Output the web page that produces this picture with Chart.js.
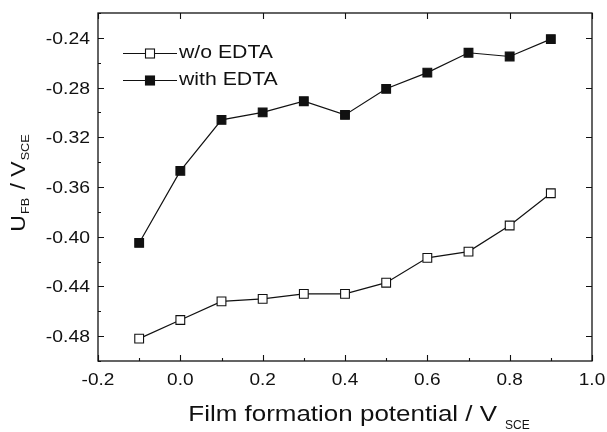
<!DOCTYPE html>
<html>
<head>
<meta charset="utf-8">
<script src="https://cdn.jsdelivr.net/npm/chart.js@4/dist/chart.umd.min.js"></script>
<style>
  html, body { margin: 0; padding: 0; background: #fff; }
  #wrap { width: 607px; height: 432px; }
</style>
</head>
<body>
<div id="wrap"><canvas id="fbChart"></canvas></div>
<script>
// data
const potentials = [-0.1, 0.0, 0.1, 0.2, 0.3, 0.4, 0.5, 0.6, 0.7, 0.8, 0.9];
const withoutEdta = [-0.482, -0.467, -0.452, -0.450, -0.446, -0.446, -0.437, -0.417, -0.412, -0.391, -0.365];
const withEdta = [-0.405, -0.347, -0.306, -0.300, -0.291, -0.302, -0.281, -0.268, -0.252, -0.255, -0.241];
const xTicks = [-0.2, 0.0, 0.2, 0.4, 0.6, 0.8, 1.0];
const yTicks = [-0.48, -0.44, -0.40, -0.36, -0.32, -0.28, -0.24];
const seriesNames = ['w/o EDTA', 'with EDTA'];

const FONT = '"Liberation Sans", Arial, sans-serif';
const INK = '#111';

const toPoints = vals => vals.map((v, i) => ({ x: potentials[i], y: v }));

// the original lettering is a bit wider than Arial, so stretch it sideways
function textW(ctx, str, font, sx) {
    ctx.font = font;
    return ctx.measureText(str).width * sx;
}
function putText(ctx, str, x, y, font, sx, align) {
    ctx.save();
    ctx.font = font;
    const w = ctx.measureText(str).width * sx;
    let left = x;
    if (align === 'center') left = x - w / 2;
    if (align === 'right') left = x - w;
    ctx.translate(left, y);
    ctx.scale(sx, 1);
    ctx.textAlign = 'left';
    ctx.fillText(str, 0, 0);
    ctx.restore();
}

// frame, inward ticks, tick labels, axis titles and legend
const framePlugin = {
    id: 'frame',
    afterDraw(chart) {
        const { ctx, chartArea: a, scales: { x, y } } = chart;
        ctx.save();
        ctx.strokeStyle = INK;
        ctx.lineWidth = 1.3;
        ctx.strokeRect(a.left, a.top, a.right - a.left, a.bottom - a.top);

        ctx.lineWidth = 1.1;
        ctx.beginPath();
        for (let v = -0.2; v <= 1.0001; v += 0.1) {
            const px = Math.round(x.getPixelForValue(v)) + 0.5;
            const major = Math.abs(Math.round(v * 10)) % 2 === 0;
            ctx.moveTo(px, a.bottom); ctx.lineTo(px, a.bottom - (major ? 6 : 3));
            if (major) { ctx.moveTo(px, a.top); ctx.lineTo(px, a.top + 6); }
        }
        for (let v = -0.50; v <= -0.2199; v += 0.02) {
            const py = Math.round(y.getPixelForValue(v)) + 0.5;
            const major = Math.abs(Math.round(v * 50)) % 2 === 0;
            ctx.moveTo(a.left, py); ctx.lineTo(a.left + (major ? 6 : 3), py);
            if (major) { ctx.moveTo(a.right, py); ctx.lineTo(a.right - 6, py); }
        }
        ctx.stroke();

        ctx.fillStyle = INK;
        ctx.textBaseline = 'alphabetic';

        // tick labels
        const tickFont = '17px ' + FONT;
        xTicks.forEach(v => putText(ctx, v.toFixed(1), x.getPixelForValue(v), 385, tickFont, 1.12, 'center'));
        yTicks.forEach(v => putText(ctx, v.toFixed(2), 90, y.getPixelForValue(v) + 6, tickFont, 1.14, 'right'));

        // x title
        const big = '22px ' + FONT, small = '12px ' + FONT;
        const xMain = 'Film formation potential / V';
        const w1 = textW(ctx, xMain, big, 1.18);
        const w2 = textW(ctx, 'SCE', small, 1.0);
        const sx = (a.left + a.right) / 2 + 14 - (w1 + 8 + w2) / 2;
        putText(ctx, xMain, sx, 421, big, 1.18, 'left');
        putText(ctx, 'SCE', sx + w1 + 8, 429, small, 1.0, 'left');

        // y title, rotated
        ctx.save();
        ctx.translate(25, (a.top + a.bottom) / 2 - 4);
        ctx.rotate(-Math.PI / 2);
        const yBig = '20px ' + FONT, ySmall = '11px ' + FONT;
        const parts = [['U', yBig, 0, 1], ['FB', ySmall, 4, 2], [' / V', yBig, 0, 1], ['SCE', ySmall, 4, 0]];
        let total = 0;
        parts.forEach(p => { total += textW(ctx, p[0], p[1], 1.15) + p[3]; });
        let cx = -total / 2;
        parts.forEach(p => {
            putText(ctx, p[0], cx, p[2], p[1], 1.15, 'left');
            cx += textW(ctx, p[0], p[1], 1.15) + p[3];
        });
        ctx.restore();

        // legend
        const legendRows = [[53, '#fff', 58], [80, INK, 85]];
        legendRows.forEach((row, i) => {
            const ly = row[0];
            ctx.lineWidth = 1.1;
            ctx.beginPath();
            ctx.moveTo(123, ly + 0.5); ctx.lineTo(177, ly + 0.5);
            ctx.stroke();
            ctx.fillStyle = row[1];
            ctx.fillRect(145.5, ly - 4, 9, 9);
            ctx.strokeRect(145.5, ly - 4, 9, 9);
            ctx.fillStyle = INK;
            putText(ctx, seriesNames[i], 179, row[2], '18px ' + FONT, 1.18, 'left');
        });
        ctx.restore();
    }
};

const baseSet = {
    borderColor: INK,
    borderWidth: 1.2,
    pointStyle: 'rect',
    pointRadius: 6.2,
    pointBorderWidth: 1.1,
    pointBorderColor: INK,
    tension: 0,
    fill: false
};

new Chart(document.getElementById('fbChart'), {
    type: 'line',
    data: {
        datasets: [
            { ...baseSet, label: seriesNames[0], data: toPoints(withoutEdta), pointBackgroundColor: '#fff' },
            { ...baseSet, label: seriesNames[1], data: toPoints(withEdta), pointBackgroundColor: INK }
        ]
    },
    options: {
        responsive: true,
        maintainAspectRatio: false,
        animation: false,
        layout: { padding: { top: 13, right: 15, left: 0, bottom: 0 } },
        plugins: { legend: { display: false }, tooltip: { enabled: false } },
        scales: {
            x: {
                type: 'linear',
                min: -0.2,
                max: 1.0,
                grid: { display: false },
                border: { display: false },
                ticks: { display: false },
                afterBuildTicks: s => { s.ticks = xTicks.map(v => ({ value: v })); },
                afterFit: s => { s.height = 71; s.paddingLeft = 0; s.paddingRight = 0; }
            },
            y: {
                min: -0.50,
                max: -0.22,
                grid: { display: false },
                border: { display: false },
                ticks: { display: false },
                afterBuildTicks: s => { s.ticks = yTicks.map(v => ({ value: v })); },
                afterFit: s => { s.width = 98; s.paddingTop = 0; s.paddingBottom = 0; }
            }
        }
    },
    plugins: [framePlugin]
});
</script>
</body>
</html>
